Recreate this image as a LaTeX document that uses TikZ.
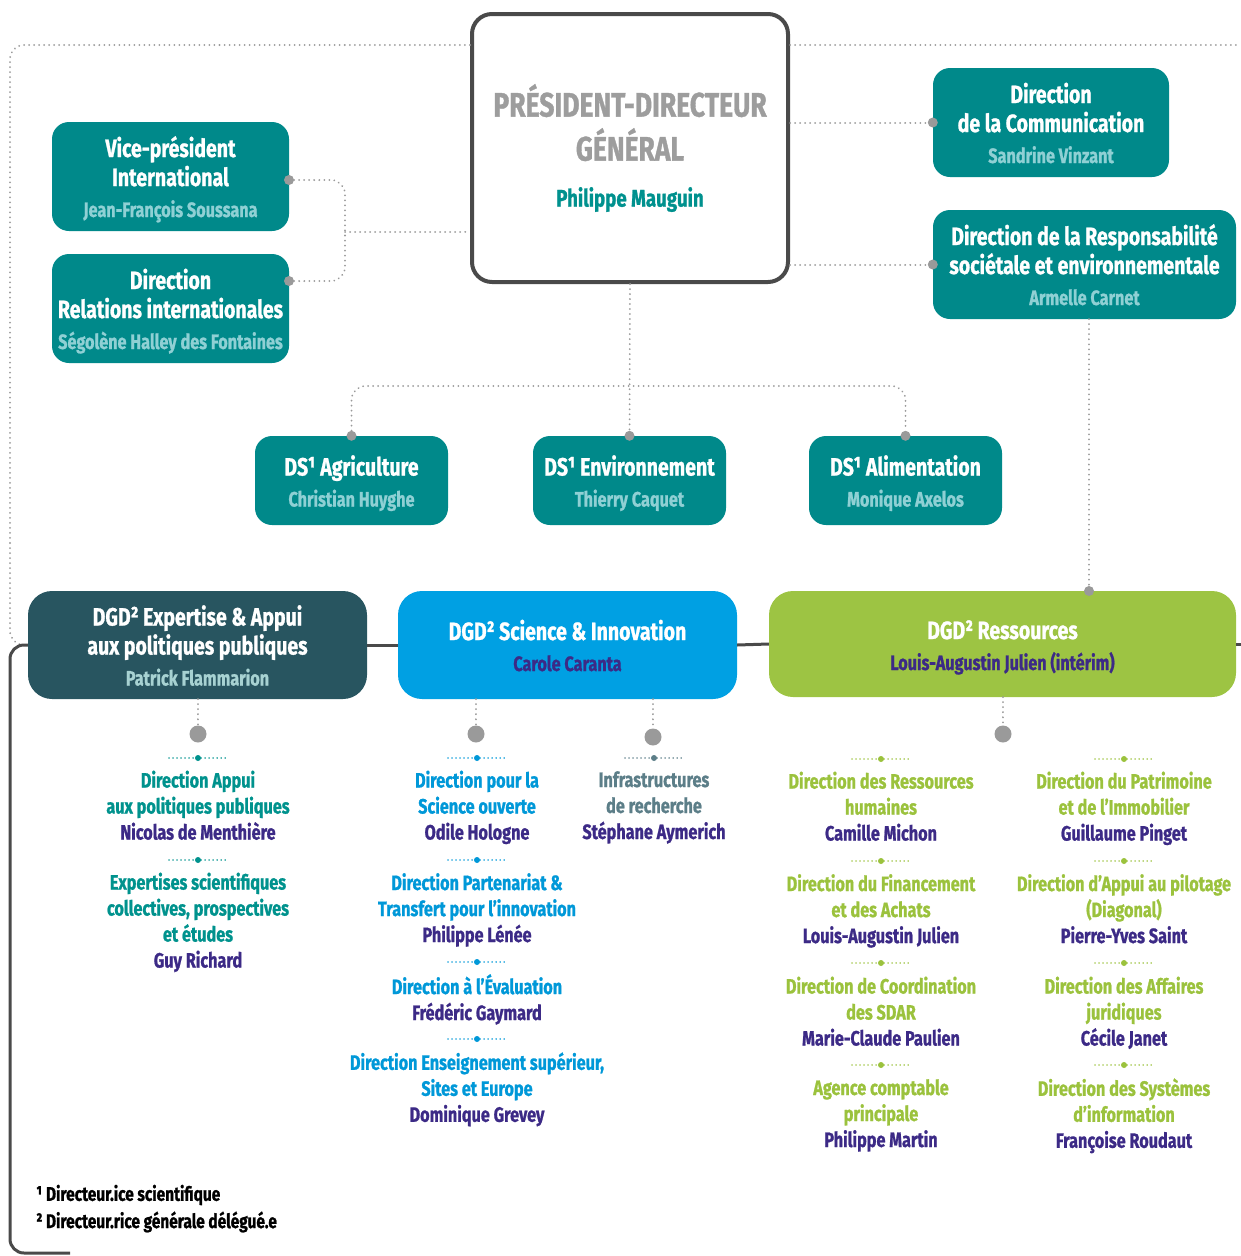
\documentclass[tikz,border=0pt]{standalone}
\usepackage{fontspec}
\setmainfont{Fira Sans}[FakeStretch=0.78, BoldFeatures={FakeBold=1}]

\definecolor{inrateal}{HTML}{00898A}
\definecolor{lightteal}{HTML}{8FD0D4}
\definecolor{pdggray}{HTML}{9D9D9D}
\definecolor{pdgteal}{HTML}{00918E}
\definecolor{framegray}{HTML}{4A4A4A}
\definecolor{dotgray}{HTML}{9A9A9A}
\definecolor{slate}{HTML}{285560}
\definecolor{slatename}{HTML}{A7D2D2}
\definecolor{scblue}{HTML}{00A0E3}
\definecolor{resgreen}{HTML}{9DC443}
\definecolor{namepurple}{HTML}{3C2A86}
\definecolor{coteal}{HTML}{00928D}
\definecolor{coblue}{HTML}{0098D8}
\definecolor{coslate}{HTML}{5C7E88}
\definecolor{cogreen}{HTML}{9BC23D}

\newcommand\boxfont{\bfseries\fontsize{25}{29}\selectfont}
\newcommand\whofont{\bfseries\fontsize{20.8}{29}\selectfont}
\newcommand\entryfont{\bfseries\fontsize{20.8}{26}\selectfont}
\newcommand\who[1]{{\color{namepurple}#1\strut}}
\newcommand\lead{\rule{0pt}{29pt}}
\newcommand\boxwho[2]{{\whofont\color{#1}#2\rule[-8pt]{0pt}{8pt}}}
\newcommand\sepdot[3]{%
  \draw[#3, line width=1.5pt, line cap=round, dash pattern=on 0.01pt off 4pt] ({#1-29},#2) -- ({#1+29},#2);
  \fill[#3] (#1,#2) circle (3pt);}

\tikzset{
  box/.style={rounded corners=17pt, inner sep=0pt, align=center, text=white, font=\boxfont},
  dotline/.style={dotgray, line width=2pt, line cap=round, dash pattern=on 0.01pt off 5pt, rounded corners=14pt},
  gdot/.style={circle, fill=dotgray, inner sep=0pt, minimum size=10pt},
  bigdot/.style={circle, fill=dotgray, inner sep=0pt, minimum size=17pt},
  entry/.style={align=center, font=\entryfont, inner sep=0pt},
  frameline/.style={framegray, line width=3pt, rounded corners=14pt},
}

\begin{document}
\begin{tikzpicture}[x=1pt,y=-1pt]
\useasboundingbox (0,0) rectangle (1240,1256);

% top level
\node[draw=framegray, line width=4pt, fill=white, rounded corners=20pt, minimum width=316pt, minimum height=268pt,
  inner sep=0pt, align=center, text=pdggray, font=\bfseries\fontsize{34}{44}\selectfont] (pdg) at (630,148)
  {PRÉSIDENT-DIRECTEUR\\GÉNÉRAL\\[2pt]{\fontsize{24}{30}\selectfont\color{pdgteal}Philippe Mauguin}};

\node[box, fill=inrateal, minimum width=237pt, minimum height=109pt] (vp) at (170.5,176.5)
  {\lead Vice-président\\International\\[2pt]\boxwho{lightteal}{Jean-François Soussana}};
\node[box, fill=inrateal, minimum width=237pt, minimum height=109pt] (relint) at (170.5,308.5)
  {\lead Direction\\Relations internationales\\[2pt]\boxwho{lightteal}{Ségolène Halley des Fontaines}};
\node[box, fill=inrateal, minimum width=236pt, minimum height=109pt] (comm) at (1051,122.5)
  {\lead Direction\\de la Communication\\[2pt]\boxwho{lightteal}{Sandrine Vinzant}};
\node[box, fill=inrateal, minimum width=303pt, minimum height=109pt] (rse) at (1084.5,264.5)
  {\lead Direction de la Responsabilité\\sociétale et environnementale\\[2pt]\boxwho{lightteal}{Armelle Carnet}};

% scientific directors
\node[box, fill=inrateal, minimum width=193pt, minimum height=89pt] (agri) at (351.5,480.5)
  {\lead DS¹ Agriculture\\[2pt]\boxwho{lightteal}{Christian Huyghe}};
\node[box, fill=inrateal, minimum width=193pt, minimum height=89pt] (env) at (629.5,480.5)
  {\lead DS¹ Environnement\\[2pt]\boxwho{lightteal}{Thierry Caquet}};
\node[box, fill=inrateal, minimum width=193pt, minimum height=89pt] (alim) at (905.5,480.5)
  {\lead DS¹ Alimentation\\[2pt]\boxwho{lightteal}{Monique Axelos}};

% deputy directors general
\node[box, fill=slate, rounded corners=24pt, minimum width=339pt, minimum height=108pt] (exp) at (197.5,645)
  {\lead DGD² Expertise \& Appui\\aux politiques publiques\\[2pt]\boxwho{slatename}{Patrick Flammarion}};
\node[box, fill=scblue, rounded corners=24pt, minimum width=339pt, minimum height=108pt] (sci) at (567.5,645)
  {\lead DGD² Science \& Innovation\\[2pt]\boxwho{namepurple}{Carole Caranta}};
\node[box, fill=resgreen, rounded corners=24pt, minimum width=467pt, minimum height=106pt] (res) at (1002.5,644)
  {\lead DGD² Ressources\\[2pt]\boxwho{namepurple}{Louis-Augustin Julien (intérim)}};

% frames
\coordinate (ftl) at (10,45);
\coordinate (ftr) at (1240,45);
\coordinate (fbl) at (10,1253);
\draw[dotline] (ftl -| pdg.west) -- (ftl) -- (ftl |- exp.west) -- (exp.west);
\draw[dotline] (pdg.east |- ftr) -- (ftr);
\draw[frameline] (exp.west) -- (exp.west -| fbl) -- (fbl) -- ++(60,0);
\draw[frameline] (exp.east) -- (sci.west);
\draw[frameline] (sci.east) -- (res.west);
\draw[frameline] (res.east) -- ++(10,0);

% international
\node[gdot] (dvp) at (289,180) {};
\node[gdot] (dri) at (289,281) {};
\coordinate (vpj) at (345,232);
\draw[dotline] (dvp) -- (dvp -| vpj) -- (dri -| vpj) -- (dri);
\draw[dotline] (vpj) -- (vpj -| pdg.west);

% communication, rse
\node[gdot] (dcomm) at (comm.west) {};
\node[gdot] (drse) at (rse.west) {};
\draw[dotline] (dcomm -| pdg.east) -- (dcomm);
\draw[dotline] (drse -| pdg.east) -- (drse);
\node[gdot] (dres) at (1089,591) {};
\draw[dotline] (dres |- rse.south) -- (dres);

% DS
\node[gdot] (dagri) at (agri.north) {};
\node[gdot] (denv) at (env.north) {};
\node[gdot] (dalim) at (alim.north) {};
\coordinate (dsbar) at (630,386);
\draw[dotline] (pdg.south) -- (denv);
\draw[dotline] (dagri) -- (dagri |- dsbar) -- (dalim |- dsbar) -- (dalim);

% under the DGD
\node[bigdot] (bexp) at (198,734) {};
\node[bigdot] (bsci) at (476,734) {};
\node[bigdot] (binfra) at (653,737) {};
\node[bigdot] (bres) at (1003,734) {};
\draw[dotline] (bexp |- exp.south) -- (bexp);
\draw[dotline] (bsci |- sci.south) -- (bsci);
\draw[dotline] (binfra |- sci.south) -- (binfra);
\draw[dotline] (bres |- res.south) -- (bres);

% expertise column
\sepdot{198}{758}{coteal}
\node[entry, text=coteal] (appui) at (198,809) {Direction Appui\\aux politiques publiques\\\who{Nicolas de Menthière}};
\sepdot{198}{860}{coteal}
\node[entry, text=coteal] (expsci) at (198,924) {Expertises scientifiques\\collectives, prospectives\\et études\\\who{Guy Richard}};

% science column
\sepdot{477}{758}{coblue}
\node[entry, text=coblue] (scouv) at (477,809) {Direction pour la\\Science ouverte\\\who{Odile Hologne}};
\sepdot{477}{860}{coblue}
\node[entry, text=coblue] (partn) at (477,911.5) {Direction Partenariat \&\\Transfert pour l’innovation\\\who{Philippe Lénée}};
\sepdot{477}{962}{coblue}
\node[entry, text=coblue] (eval) at (477,1001) {Direction à l’Évaluation\\\who{Frédéric Gaymard}};
\sepdot{477}{1039}{coblue}
\node[entry, text=coblue] (ensup) at (477,1091) {Direction Enseignement supérieur,\\Sites et Europe\\\who{Dominique Grevey}};

\sepdot{654}{758}{coslate}
\node[entry, text=coslate] (infra) at (654,809) {Infrastructures\\de recherche\\\who{Stéphane Aymerich}};

% ressources columns
\sepdot{881}{759}{cogreen}
\node[entry, text=cogreen] (rh) at (881,810) {Direction des Ressources\\humaines\\\who{Camille Michon}};
\sepdot{881}{861}{cogreen}
\node[entry, text=cogreen] (fin) at (881,912.5) {Direction du Financement\\et des Achats\\\who{Louis-Augustin Julien}};
\sepdot{881}{963}{cogreen}
\node[entry, text=cogreen] (sdar) at (881,1015) {Direction de Coordination\\des SDAR\\\who{Marie-Claude Paulien}};
\sepdot{881}{1065}{cogreen}
\node[entry, text=cogreen] (acp) at (881,1117) {Agence comptable\\principale\\\who{Philippe Martin}};

\sepdot{1124}{759}{cogreen}
\node[entry, text=cogreen] (patri) at (1124,810) {Direction du Patrimoine\\et de l’Immobilier\\\who{Guillaume Pinget}};
\sepdot{1124}{861}{cogreen}
\node[entry, text=cogreen] (pilot) at (1124,912.5) {Direction d’Appui au pilotage\\(Diagonal)\\\who{Pierre-Yves Saint}};
\sepdot{1124}{963}{cogreen}
\node[entry, text=cogreen] (jur) at (1124,1015) {Direction des Affaires\\juridiques\\\who{Cécile Janet}};
\sepdot{1124}{1065}{cogreen}
\node[entry, text=cogreen] (dsi) at (1124,1117) {Direction des Systèmes\\d’information\\\who{Françoise Roudaut}};

% footnotes
\node[anchor=west, inner sep=0pt, font=\bfseries\fontsize{19.8}{24}\selectfont] (fn1) at (36,1195) {¹ Directeur.ice scientifique};
\node[anchor=west, inner sep=0pt, font=\bfseries\fontsize{19.8}{24}\selectfont] (fn2) at (36,1222) {² Directeur.rice générale délégué.e};

\end{tikzpicture}
\end{document}
